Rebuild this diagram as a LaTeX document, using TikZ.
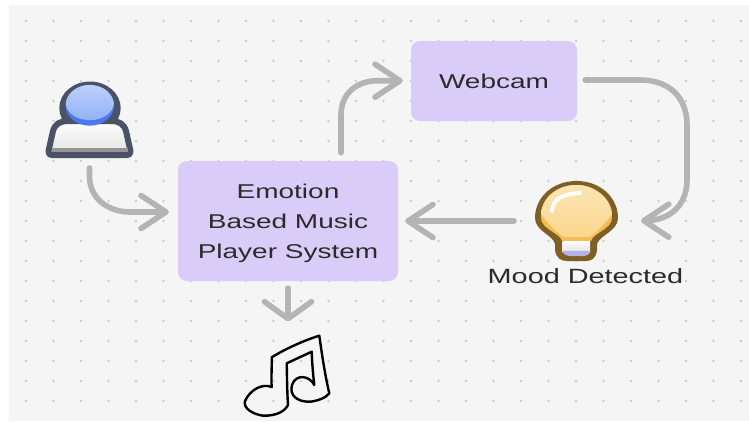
\documentclass[tikz,border=0pt]{standalone}
\usepackage{fontspec}
\setmainfont[FakeStretch=1.4]{Liberation Sans}
\usetikzlibrary{arrows.meta,calc}
\definecolor{pagebg}{HTML}{F5F5F5}
\definecolor{dotc}{HTML}{CCCCCC}
\definecolor{boxc}{HTML}{DACCF8}
\definecolor{linkc}{HTML}{B4B4B4}
\definecolor{inkc}{HTML}{2B2B2B}
\definecolor{userline}{HTML}{4A5365}
\definecolor{headlow}{HTML}{4C78F0}
\definecolor{headtop}{HTML}{BDD0FB}
\definecolor{headmid}{HTML}{93B1F6}
\definecolor{bulbline}{HTML}{7F5F24}
\definecolor{bulblow}{HTML}{F6BB52}
\definecolor{bulbtop}{HTML}{FBE4B4}
\definecolor{bulbmid}{HTML}{FBD78E}
\tikzset{
 procbox/.style={fill=boxc,draw=none,rounded corners=9pt,align=center,text=inkc,font=\fontsize{20}{30}\selectfont,inner sep=0pt},
 link/.style={draw=linkc,line width=5.6pt,line cap=round,line join=round,-{Straight Barb[length=25pt,width=33pt,line width=5.6pt,round]}},
 widelink/.style={draw=linkc,line width=5.6pt,line cap=round,line join=round,-{Straight Barb[length=17pt,width=47pt,line width=5.6pt,round]}},
 caption/.style={text=inkc,font=\fontsize{20.6}{24}\selectfont,inner sep=0pt},
 anchorpt/.style={inner sep=0pt,minimum size=0pt},
}
\begin{document}
\begin{tikzpicture}[x=1pt,y=-1pt]
\useasboundingbox (0,0) rectangle (749,421);
\fill[white] (0,0) rectangle (749,421);
\fill[pagebg] (9,5) rectangle (749,421);
\foreach \i in {0,...,26}{\foreach \j in {0,...,19}{
  \fill[dotc] ({26+27.5*\i},{21+20*\j}) circle (1.4pt);}}
% boxes
\node[procbox,minimum width=220pt,minimum height=120pt] (sys) at (288,221) {\rule{0pt}{19pt}Emotion\\Based Music\\Player System};
\node[procbox,minimum width=166pt,minimum height=80pt] (cam) at (494,81) {Webcam};
% person icon
\node[anchorpt] (user) at (89.5,158) {};
\fill[userline] (90,108) ellipse (30.7 and 26.5);
\path[shade,top color=white,bottom color=black!12,draw=userline,line width=6pt,line join=round]
 (68,121) -- (111,121) .. controls (119,121) and (124,124) .. (126,131) -- (130.5,151) .. controls (131,154) and (129,155) .. (127,155) -- (52,155) .. controls (50,155) and (48,154) .. (48.5,151) -- (53,131) .. controls (55,124) and (60,121) .. (68,121) -- cycle;
\fill[black!42!white] (51.5,148) rectangle (128,152);
\fill[headlow] (89.8,105.3) ellipse (24.2 and 20.4);
\begin{scope}
 \clip (89.8,105.3) ellipse (24.2 and 20.4);
 \shade[top color=headtop,bottom color=headmid] (89.8,102.5) ellipse (24.2 and 17.7);
\end{scope}
% bulb icon
\node[anchorpt] (bulb) at (576.5,221) {};
\fill[bulbline] (576.5,181) .. controls (552,181) and (535,198) .. (535,218) .. controls (535,231) and (553,235) .. (555,244) -- (555,250) .. controls (556,258) and (561,261) .. (567,261) -- (586,261) .. controls (592,261) and (596,258) .. (597,250) -- (597,244) .. controls (600,235) and (618,231) .. (618,218) .. controls (618,198) and (601,181) .. (576.5,181) -- cycle;
\fill[bulblow] (576.5,185) .. controls (554,185) and (541,201) .. (541,218) .. controls (541,229) and (560,233) .. (562,241) -- (591,241) .. controls (593,233) and (612,229) .. (612,218) .. controls (612,201) and (597,185) .. (576.5,185) -- cycle;
\shade[top color=bulbtop,bottom color=bulbmid] (576.5,185) .. controls (554,185) and (541,201) .. (541,214) .. controls (548,224) and (558,234) .. (564,237) -- (589,237) .. controls (595,234) and (605,224) .. (612,214) .. controls (612,201) and (597,185) .. (576.5,185) -- cycle;
\draw[white,line width=4pt,line cap=round] (552,211) .. controls (553,199) and (562,194) .. (580,193);
\shade[top color=white,bottom color=black!12] (562.5,241) rectangle (590,252);
\fill[black!35!blue!30!white] (562.5,251) .. controls (564,255) and (567,256) .. (569,256) -- (584,256) .. controls (587,256) and (589,255) .. (590,251) -- cycle;
\node[caption] (mood) at (585.5,276) {Mood Detected};
% note
\node[anchorpt] (music) at (288,330) {};
\draw[black,line width=2.4pt,line join=round,line cap=round]
 (271.7,357.3) .. controls (272,368) and (271,378) .. (271.7,387)
 .. controls (262,383) and (250,390) .. (245,401)
 .. controls (243,408) and (252,414) .. (263,415.7)
 .. controls (277,416) and (285,411) .. (288,405)
 .. controls (287,390) and (287,375) .. (286.7,363.3)
 -- (311.7,351.7) .. controls (312,362) and (313,374) .. (314.3,385)
 .. controls (310,376) and (296,373) .. (292,385)
 .. controls (289,396) and (298,402) .. (310,401.7)
 .. controls (317,401) and (326,398) .. (329.3,393.3)
 .. controls (325,375) and (322,355) .. (319.3,335.7)
 .. controls (305,340) and (285,349) .. (271.7,357.3) -- cycle;
% connectors
\coordinate (uA) at ($(user)+(0,10)$);
\coordinate (uB) at ($(sys.west)+(-9,-9)$);
\coordinate (sA) at ($(sys.north)+(53,-8)$);
\coordinate (cA) at ($(cam.west)+(-8,-0.3)$);
\coordinate (cB) at ($(cam.east)+(8,-1)$);
\coordinate (bA) at ($(bulb)+(64.5,-0.3)$);
\coordinate (bB) at ($(bulb)+(-62.5,0)$);
\coordinate (sB) at ($(sys.east)+(7,0)$);
\coordinate (sC) at ($(sys.south)+(0,7)$);
\coordinate (nA) at ($(music)+(0,-8.5)$);
\draw[link] (uA) -- (89.5,176) .. controls (89.5,200) and (110,212) .. (130,212) -- (uB);
\draw[link] (sA) -- (341,115) .. controls (341,95) and (355,80.7) .. (378,80.7) -- (cA);
\draw[link] (cB) -- (640,80) .. controls (670,80) and (687,98) .. (687,125) -- (687,180) .. controls (687,205) and (670,220.7) .. (645,220.7) -- (bA);
\draw[link] (bB) -- (sB);
\draw[widelink] (sC) -- (nA);
\end{tikzpicture}
\end{document}
